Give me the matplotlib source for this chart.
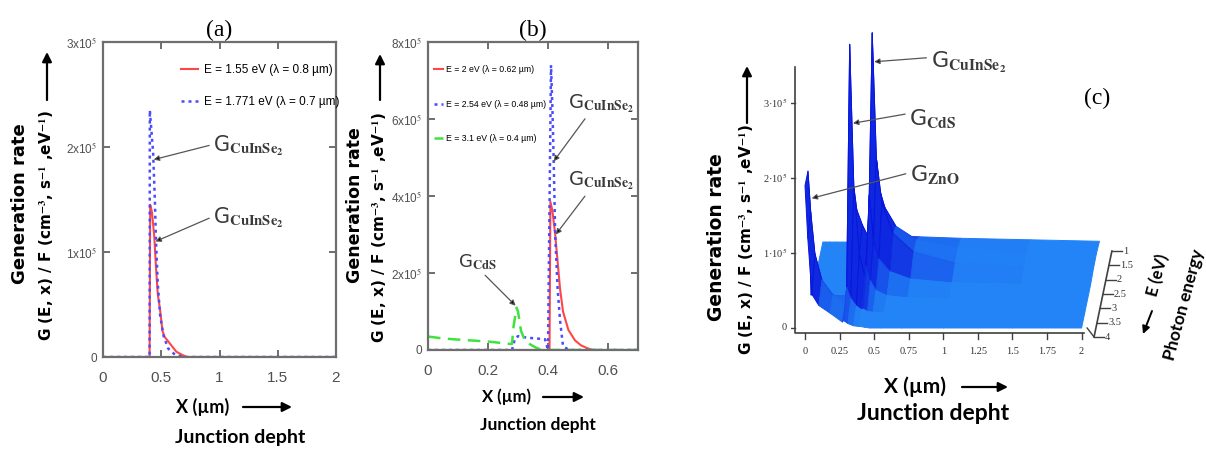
import matplotlib.pyplot as plt
import numpy as np
from matplotlib.collections import PolyCollection
from matplotlib.colors import to_rgb

plt.rcParams["mathtext.fontset"] = "stix"

FIG_W, FIG_H = 1206, 450

RED = "#ff4646"
BLUE = "#4c4cff"
GREEN = "#3fe33f"
FRAME = "#6e6e6e"
TICK_FONT = ["Liberation Sans", "DejaVu Sans"]
LABEL_FONT = ["Lato", "DejaVu Sans"]
WIDE_FONT = ["DejaVu Sans"]
SERIF = ["Liberation Serif", "DejaVu Serif"]

# (a) generation rate profiles, in units of 1e5
A_RED_X = [0, 0.40, 0.405, 0.42, 0.44, 0.455, 0.47, 0.49, 0.51, 0.53, 0.58, 0.63, 0.68, 0.72, 2.0]
A_RED_G = [0, 0, 1.45, 1.38, 1.15, 0.85, 0.60, 0.45, 0.25, 0.19, 0.12, 0.05, 0.02, 0, 0]
A_BLUE_X = [0, 0.40, 0.402, 0.43, 0.445, 0.455, 0.47, 0.49, 0.52, 0.56, 0.62, 0.70, 2.0]
A_BLUE_G = [0, 0, 2.35, 1.95, 1.50, 1.10, 0.70, 0.40, 0.20, 0.08, 0.02, 0, 0]
A_LEGEND = ["E = 1.55 eV (λ = 0.8 µm)", "E = 1.771 eV (λ = 0.7 µm)"]
A_XTICKS = [0, 0.5, 1, 1.5, 2]
A_YTICKS = [0, 1, 2, 3]

# (b) generation rate profiles, in units of 1e5
B_RED_X = [0, 0.405, 0.408, 0.415, 0.424, 0.432, 0.44, 0.45, 0.468, 0.49, 0.51, 0.53, 0.55, 0.7]
B_RED_G = [0, 0, 3.85, 3.60, 3.00, 2.30, 1.60, 1.00, 0.52, 0.25, 0.12, 0.05, 0, 0]
B_BLUE_X = [0, 0.28, 0.29, 0.30, 0.33, 0.36, 0.39, 0.40, 0.41, 0.415, 0.419, 0.424, 0.432, 0.44, 0.45, 0.47, 0.7]
B_BLUE_G = [0, 0, 0.30, 0.36, 0.32, 0.30, 0.28, 0.0, 7.40, 6.20, 4.90, 3.00, 1.60, 0.78, 0.10, 0, 0]
B_GREEN_X = [0, 0.05, 0.10, 0.20, 0.27, 0.28, 0.285, 0.295, 0.30, 0.31, 0.32, 0.34, 0.36, 0.38, 0.7]
B_GREEN_G = [0.35, 0.30, 0.27, 0.22, 0.16, 0.16, 0.60, 1.10, 1.00, 0.50, 0.30, 0.15, 0.06, 0, 0]
B_LEGEND = ["E = 2 eV (λ = 0.62 µm)", "E = 2.54 eV (λ = 0.48 µm)", "E = 3.1 eV (λ = 0.4 µm)"]
B_XTICKS = [0, 0.2, 0.4, 0.6]
B_YTICKS = [0, 2, 4, 6, 8]

# (c) G(E, x)/F surface, rows by photon energy, units of 1e5
C_E = [1.0, 1.5, 2.0, 2.5, 3.0, 3.5, 4.0]
C_X = [0, 0.02, 0.05, 0.10, 0.18, 0.27, 0.28, 0.31, 0.35, 0.39, 0.40, 0.43, 0.47, 0.55, 0.70, 1.0, 1.5, 2.0]
C_G_10 = [0, 0, 0, 0, 0, 0, 0, 0, 0, 0, 0.12, 0.10, 0.09, 0.08, 0.07, 0.05, 0.03, 0.01]
C_G_15 = [0, 0, 0, 0, 0, 0, 0, 0, 0, 0, 1.30, 0.90, 0.65, 0.40, 0.22, 0.12, 0.06, 0.04]
C_G_20 = [0, 0, 0, 0, 0, 0, 0, 0, 0, 0, 3.17, 1.50, 0.90, 0.50, 0.25, 0.10, 0.04, 0.03]
C_G_25 = [0.03, 0.03, 0.03, 0.03, 0.03, 0.03, 1.20, 1.00, 0.80, 0.65, 1.20, 0.60, 0.35, 0.18, 0.08, 0.03, 0.01, 0]
C_G_30 = [0.06, 0.06, 0.06, 0.05, 0.05, 0.05, 3.40, 1.50, 0.60, 0.30, 0.45, 0.25, 0.12, 0.05, 0.02, 0, 0, 0]
C_G_35 = [1.90, 1.35, 0.80, 0.45, 0.25, 0.12, 0.35, 0.20, 0.10, 0.05, 0.06, 0.03, 0.02, 0.01, 0, 0, 0, 0]
C_G_40 = [1.90, 1.20, 0.45, 0.30, 0.20, 0.08, 0.10, 0.06, 0.03, 0.02, 0.02, 0.01, 0, 0, 0, 0, 0, 0]
C_XTICKS = [0, 0.25, 0.5, 0.75, 1, 1.25, 1.5, 1.75, 2]
C_XTICKLABELS = ["0", "0.25", "0.5", "0.75", "1", "1.25", "1.5", "1.75", "2"]
C_YTICKS = [0, 1, 2, 3]
C_ETICKS = [1, 1.5, 2, 2.5, 3, 3.5, 4]

# oblique view of the surface: each eV towards the back shifts the row
SKEW_X, SKEW_Y = 0.043, 0.382


def px(x, y):
    return x / FIG_W, 1 - y / FIG_H


def rect(left, top, right, bottom):
    return [left / FIG_W, 1 - bottom / FIG_H, (right - left) / FIG_W, (bottom - top) / FIG_H]


def fig_arrow(ax, start, end, lw=1.6, ms=14):
    ax.annotate("", xy=px(*end), xytext=px(*start), xycoords="figure fraction",
                textcoords="figure fraction",
                arrowprops=dict(arrowstyle="-|>", color="black", lw=lw,
                                mutation_scale=ms, shrinkA=0, shrinkB=0))


def pointer(ax, text, tip, at, relpos=(0, 0.5), size=15, ha="center"):
    ax.annotate(text, xy=tip, xytext=at, ha=ha, va="center", fontsize=size,
                color="#3a3a3a", annotation_clip=False,
                arrowprops=dict(arrowstyle="-|>", edgecolor="#555555", facecolor="black",
                                lw=0.9, mutation_scale=8, shrinkA=1, shrinkB=0,
                                relpos=relpos))


def side_labels(fig, ax, gen, gf, arrow, xlab, xarrow, depth, gen_fs, gf_fs, x_fs, d_fs):
    fig.text(*px(*gen), "Generation rate", rotation=90, ha="center", va="center",
             family=WIDE_FONT, weight="bold", fontsize=gen_fs)
    fig.text(*px(*gf), r"G (E, x) / F (cm$^{\mathbf{-3}}$, s$^{\mathbf{-1}}$ ,eV$^{\mathbf{-1}}$)",
             rotation=90, ha="center", va="center", family=WIDE_FONT, weight="bold",
             fontsize=gf_fs)
    fig_arrow(ax, arrow[0], arrow[1])
    fig.text(*px(*xlab), "X (µm)", ha="center", va="center", family=LABEL_FONT,
             weight="bold", fontsize=x_fs)
    fig_arrow(ax, xarrow[0], xarrow[1])
    fig.text(*px(*depth), "Junction depht", ha="center", va="center", family=LABEL_FONT,
             weight="bold", fontsize=d_fs)


def style_frame(ax):
    for spine in ax.spines.values():
        spine.set_color(FRAME)
        spine.set_linewidth(1.6)
    ax.tick_params(direction="in", top=True, right=True, length=5, width=1.2,
                   color="#555555", labelcolor="#505050")
    ax.tick_params(axis="x", pad=10)
    ax.tick_params(axis="y", pad=4)
    for lab in ax.get_xticklabels() + ax.get_yticklabels():
        lab.set_family(TICK_FONT)
    for lab in ax.get_xticklabels():
        lab.set_fontsize(11)
    for lab in ax.get_yticklabels():
        lab.set_fontsize(8.5)


fig = plt.figure(figsize=(FIG_W / 100, FIG_H / 100), dpi=100)

# ---------------- (a)
ax_a = fig.add_axes(rect(103, 42, 336, 357))
ax_a.plot(A_RED_X, A_RED_G, color=RED, lw=1.5, label=A_LEGEND[0])
ax_a.plot(A_BLUE_X, A_BLUE_G, color=BLUE, lw=1.8, ls=(0, (1.2, 1.6)), label=A_LEGEND[1])
ax_a.set_xlim(0, 2)
ax_a.set_ylim(0, 3)
ax_a.set_xticks(A_XTICKS, ["0", "0.5", "1", "1.5", "2"])
ax_a.set_yticks(A_YTICKS, ["0"] + [f"{v}x10$^5$" for v in A_YTICKS[1:]])
style_frame(ax_a)
ax_a.legend(loc="upper left", bbox_to_anchor=(0.29, 0.965), frameon=False, handlelength=1.4,
            handletextpad=0.5, labelspacing=1.75,
            prop=dict(family=TICK_FONT, size=8.5))
ax_a.set_title("(a)", family=SERIF, fontsize=17, pad=4)
pointer(ax_a, r"G$_{\mathbf{CuInSe}_{\mathbf{2}}}$", (0.435, 1.88), (1.25, 2.01), relpos=(0.05, 0.6))
pointer(ax_a, r"G$_{\mathbf{CuInSe}_{\mathbf{2}}}$", (0.45, 1.10), (1.25, 1.33), relpos=(0.05, 0.6))
side_labels(fig, ax_a, (20, 204), (47, 226), ((47, 100), (47, 52)), (203, 407),
            ((243, 407), (292, 407)), (240, 437), 13, 11, 13, 14)

# ---------------- (b)
ax_b = fig.add_axes(rect(428, 42, 638, 350))
ax_b.plot(B_RED_X, B_RED_G, color=RED, lw=1.5, label=B_LEGEND[0])
ax_b.plot(B_BLUE_X, B_BLUE_G, color=BLUE, lw=1.8, ls=(0, (1.2, 1.6)), label=B_LEGEND[1])
ax_b.plot(B_GREEN_X, B_GREEN_G, color=GREEN, lw=1.8, ls=(0, (5, 3)), label=B_LEGEND[2])
ax_b.set_xlim(0, 0.7)
ax_b.set_ylim(0, 8)
ax_b.set_xticks(B_XTICKS, ["0", "0.2", "0.4", "0.6"])
ax_b.set_yticks(B_YTICKS, ["0"] + [f"{v}x10$^5$" for v in B_YTICKS[1:]])
style_frame(ax_b)
ax_b.legend(loc="upper left", bbox_to_anchor=(-0.01, 0.95), frameon=False, handlelength=1.0,
            handletextpad=0.4, labelspacing=2.9,
            prop=dict(family=TICK_FONT, size=6.3))
ax_b.set_title("(b)", family=SERIF, fontsize=17, pad=4)
pointer(ax_b, r"G$_{\mathbf{CuInSe}_{\mathbf{2}}}$", (0.419, 4.9), (0.577, 6.4), relpos=(0.3, 0.0), size=14)
pointer(ax_b, r"G$_{\mathbf{CuInSe}_{\mathbf{2}}}$", (0.426, 3.0), (0.577, 4.39), relpos=(0.3, 0.0), size=14)
pointer(ax_b, r"G$_{\mathbf{CdS}}$", (0.292, 1.15), (0.165, 2.29), relpos=(0.6, 0.0), size=13)
side_labels(fig, ax_b, (355, 205), (380, 228), ((380, 100), (380, 54)), (507, 397),
            ((543, 397), (584, 397)), (538, 425), 12.5, 11, 12, 12.5)

# ---------------- (c)
C_X0, C_Y0, C_UX, C_UY = 805, 328, 138.3, 75.0
C_XLIM, C_YLIM = (-0.1, 2.4), (-0.5, 4.0)
ax_c = fig.add_axes(rect(C_X0 + C_XLIM[0] * C_UX, C_Y0 - C_YLIM[1] * C_UY,
                         C_X0 + C_XLIM[1] * C_UX, C_Y0 - C_YLIM[0] * C_UY))
ax_c.set_xlim(*C_XLIM)
ax_c.set_ylim(*C_YLIM)
ax_c.axis("off")


def project(x, e, g):
    depth = 4.0 - np.asarray(e, dtype=float)
    return np.asarray(x, dtype=float) + SKEW_X * depth, np.asarray(g, dtype=float) + SKEW_Y * depth


surface = np.array([C_G_10, C_G_15, C_G_20, C_G_25, C_G_30, C_G_35, C_G_40])
xs = np.array(C_X)
light, dark = np.array(to_rgb("#2284f6")), np.array(to_rgb("#0a16dc"))
polys, faces, edges = [], [], []
for i in range(len(C_E) - 1):
    for j in range(len(xs) - 1):
        qx = [xs[j], xs[j + 1], xs[j + 1], xs[j]]
        qe = [C_E[i], C_E[i], C_E[i + 1], C_E[i + 1]]
        qg = [surface[i, j], surface[i, j + 1], surface[i + 1, j + 1], surface[i + 1, j]]
        sx, sy = project(qx, qe, qg)
        polys.append(np.column_stack([sx, sy]))
        # steep facets read darker, the flat floor stays plain
        t = np.clip((np.ptp(qg) - 0.06) / 0.45, 0, 1)
        faces.append(light * (1 - 0.85 * t) + dark * 0.85 * t)
        edges.append(light * (1 - t) + dark * t)
ax_c.add_collection(PolyCollection(polys, facecolors=faces, edgecolors=edges, linewidths=0.7))

# axes of the 3-D box
AX_COL = "#404040"
ax_c.plot([-0.075, -0.075, 2.02], [3.48, -0.07, -0.07], color=AX_COL, lw=1.2)
for v in C_YTICKS:
    ax_c.plot([-0.13, -0.075], [v, v], color=AX_COL, lw=1.0)
    ax_c.text(-0.13, v, "0" if v == 0 else f"{v}·10$^5$", ha="right", va="center",
              family=SERIF, fontsize=7.5, color="#333333")
for v, lab in zip(C_XTICKS, C_XTICKLABELS):
    ax_c.plot([v, v], [-0.07, -0.14], color=AX_COL, lw=1.0)
    ax_c.text(v, -0.31, lab, ha="center", va="center", family=SERIF, fontsize=7.5,
              color="#333333")
ex, ey = project([2.09] * len(C_ETICKS), C_ETICKS, [-0.12] * len(C_ETICKS))
ax_c.plot(ex, ey, color=AX_COL, lw=1.2)
for x0, y0, lab in zip(ex, ey, C_ETICKS):
    ax_c.plot([x0, x0 + 0.07], [y0, y0], color=AX_COL, lw=1.0)
    ax_c.text(x0 + 0.08, y0, f"{lab:g}", ha="left", va="center", family=SERIF,
              fontsize=7.5, color="#333333")
ax_c.plot([2.04, ex[-1]], [0, ey[-1]], color=AX_COL, lw=1.0)

pointer(ax_c, r"G$_{\mathbf{CuInSe}_{\mathbf{2}}}$", (0.50, 3.55), (1.18, 3.54), relpos=(0.0, 0.7), size=16)
pointer(ax_c, r"G$_{\mathbf{CdS}}$", (0.347, 2.73), (0.925, 2.80), relpos=(0.0, 0.7), size=16)
pointer(ax_c, r"G$_{\mathbf{ZnO}}$", (0.048, 1.73), (0.94, 2.04), relpos=(0.0, 0.6), size=16)
fig.text(*px(1097, 98), "(c)", family=SERIF, fontsize=17, ha="center", va="center")

side_labels(fig, ax_c, (717, 237), (747, 240), ((747, 123), (747, 66)), (915, 387),
            ((962, 387), (1008, 387)), (933, 413), 13.5, 11, 15, 16.5)
fig.text(*px(1158, 275), "E (eV)", rotation=75, ha="center", va="center",
         family=LABEL_FONT, weight="bold", fontsize=12)
fig.text(*px(1184, 305), "Photon energy", rotation=75, ha="center", va="center",
         family=LABEL_FONT, weight="bold", fontsize=12.5)
fig_arrow(ax_c, (1152, 311), (1143, 334), lw=1.4, ms=11)

fig.savefig("out.png", dpi=100, facecolor="white")
